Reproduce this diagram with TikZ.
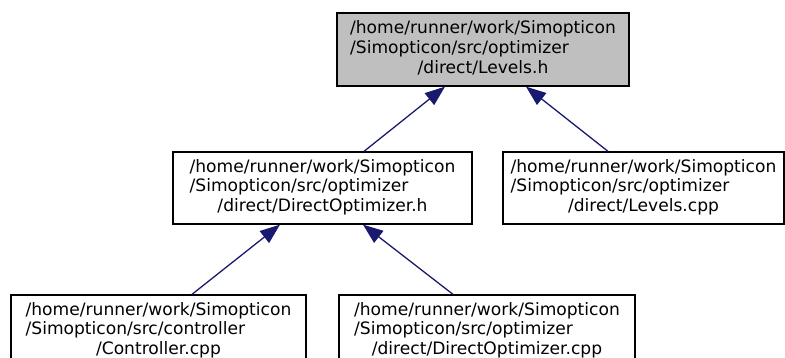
\documentclass[tikz,border=0pt]{standalone}
\usepackage{fontspec}
\setmainfont{DejaVu Sans}
\usetikzlibrary{arrows.meta}
\definecolor{edgeblue}{HTML}{191970}
\definecolor{boxgray}{HTML}{BFBFBF}
\newcommand{\threelines}[3]{\begin{tabular}{@{}l@{}}#1\\#2\\\multicolumn{1}{@{}c@{}}{#3}\end{tabular}}
\begin{document}
\begin{tikzpicture}[x=1pt,y=-1pt,
  filebox/.style={draw=black,line width=1.3pt,fill=white,rectangle,inner sep=0pt,
    minimum height=72pt,font=\fontsize{17.1}{19.6}\selectfont},
  dep/.style={draw=edgeblue,line width=1.3pt,-{Triangle[length=20pt,width=15pt]},fill=none}
]
\useasboundingbox (0,0) rectangle (785,358);
\clip (0,0) rectangle (785,358);
\node[filebox,fill=boxgray,minimum width=292pt,minimum height=73pt] (Lh) at (483,49.5)
  {\threelines{/home/runner/work/Simopticon}{/Simopticon/src/optimizer}{/direct/Levels.h}};
\node[filebox,minimum width=299pt] (DOh) at (322.5,188)
  {\threelines{/home/runner/work/Simopticon}{/Simopticon/src/optimizer}{/direct/DirectOptimizer.h}};
\node[filebox,minimum width=281pt] (Lcpp) at (643.5,188)
  {\threelines{/home/runner/work/Simopticon}{/Simopticon/src/optimizer}{/direct/Levels.cpp}};
\node[filebox,minimum width=295pt] (Ctrl) at (158.5,331)
  {\threelines{/home/runner/work/Simopticon}{/Simopticon/src/controller}{/Controller.cpp}};
\node[filebox,minimum width=296pt] (DOcpp) at (487,331)
  {\threelines{/home/runner/work/Simopticon}{/Simopticon/src/optimizer}{/direct/DirectOptimizer.cpp}};
\draw[dep] ([xshift=41.5pt]DOh.north) -- ([xshift=-38pt]Lh.south);
\draw[dep] ([xshift=-35.5pt]Lcpp.north) -- ([xshift=43pt]Lh.south);
\draw[dep] ([xshift=33.5pt]Ctrl.north) -- ([xshift=-42.5pt]DOh.south);
\draw[dep] ([xshift=-34pt]DOcpp.north) -- ([xshift=40.5pt]DOh.south);
\end{tikzpicture}
\end{document}
